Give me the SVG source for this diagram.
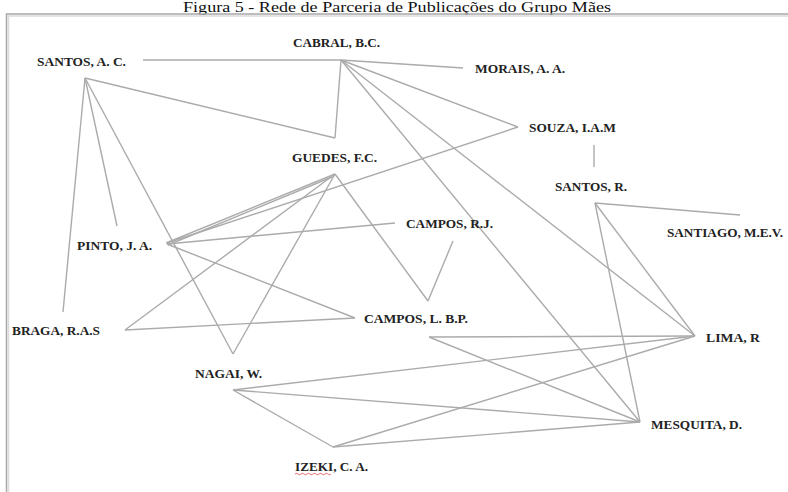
<svg xmlns="http://www.w3.org/2000/svg" width="788" height="492" viewBox="0 0 788 492">
<style>
.t{font-family:"Liberation Serif","Times New Roman",serif;font-size:12.5px;font-weight:bold;fill:#222;}
.title{font-family:"Liberation Serif","Times New Roman",serif;font-size:15px;fill:#111;}
.e line{stroke:#ababab;stroke-width:1.4;}
.frame{stroke:#a8a8a8;stroke-width:1.5;fill:none;}
.shadow{stroke:#dcdcdc;stroke-width:1.5;fill:none;}
</style>
<rect width="788" height="492" fill="#fff"/>
<text class="title" x="397" y="12" text-anchor="middle" textLength="428" lengthAdjust="spacingAndGlyphs">Figura 5 - Rede de Parceria de Publicações do Grupo Mães</text>
<path class="shadow" d="M8.5 492 V16 H788"/>
<path class="frame" d="M6.5 492 V14 H788"/>
<g id="connectors" class="e">
<line x1="143" y1="60" x2="341" y2="60"/>
<line x1="341" y1="60" x2="463" y2="68"/>
<line x1="85" y1="78" x2="335" y2="138"/>
<line x1="341" y1="60" x2="335" y2="138"/>
<line x1="341" y1="60" x2="518" y2="127"/>
<line x1="341" y1="60" x2="695" y2="336"/>
<line x1="341" y1="60" x2="640" y2="422"/>
<line x1="518" y1="127" x2="167" y2="243"/>
<line x1="594" y1="145" x2="594" y2="167"/>
<line x1="595" y1="203" x2="740" y2="215"/>
<line x1="595" y1="203" x2="695" y2="336"/>
<line x1="595" y1="203" x2="640" y2="422"/>
<line x1="85" y1="78" x2="63" y2="312"/>
<line x1="85" y1="78" x2="117" y2="226"/>
<line x1="85" y1="78" x2="233" y2="354"/>
<line x1="335" y1="174" x2="233" y2="354"/>
<line x1="335" y1="174" x2="166" y2="243"/>
<line x1="332" y1="177" x2="168" y2="245"/>
<line x1="335" y1="174" x2="125" y2="330"/>
<line x1="335" y1="174" x2="428" y2="301"/>
<line x1="453" y1="241" x2="428" y2="301"/>
<line x1="167" y1="244" x2="395" y2="223"/>
<line x1="167" y1="244" x2="355" y2="318"/>
<line x1="125" y1="330" x2="355" y2="318"/>
<line x1="429" y1="337" x2="695" y2="336"/>
<line x1="429" y1="337" x2="640" y2="422"/>
<line x1="233" y1="390" x2="695" y2="336"/>
<line x1="233" y1="390" x2="640" y2="422"/>
<line x1="233" y1="390" x2="333" y2="447"/>
<line x1="333" y1="447" x2="695" y2="336"/>
<line x1="333" y1="447" x2="640" y2="422"/>
</g>
<g id="santos-ac"><text class="t" x="37" y="66" textLength="89" lengthAdjust="spacingAndGlyphs">SANTOS, A. C.</text></g>
<g id="cabral"><text class="t" x="293" y="47" textLength="87" lengthAdjust="spacingAndGlyphs">CABRAL, B.C.</text></g>
<g id="morais"><text class="t" x="475" y="73" textLength="90" lengthAdjust="spacingAndGlyphs">MORAIS, A. A.</text></g>
<g id="guedes"><text class="t" x="292" y="162" textLength="85" lengthAdjust="spacingAndGlyphs">GUEDES, F.C.</text></g>
<g id="souza"><text class="t" x="529" y="132" textLength="87" lengthAdjust="spacingAndGlyphs">SOUZA, I.A.M</text></g>
<g id="santos-r"><text class="t" x="555" y="191" textLength="72" lengthAdjust="spacingAndGlyphs">SANTOS, R.</text></g>
<g id="campos-rj"><text class="t" x="406" y="228" textLength="87" lengthAdjust="spacingAndGlyphs">CAMPOS, R.J.</text></g>
<g id="santiago"><text class="t" x="667" y="237" textLength="116" lengthAdjust="spacingAndGlyphs">SANTIAGO, M.E.V.</text></g>
<g id="pinto"><text class="t" x="77" y="250" textLength="75" lengthAdjust="spacingAndGlyphs">PINTO, J. A.</text></g>
<g id="campos-lbp"><text class="t" x="364" y="323" textLength="104" lengthAdjust="spacingAndGlyphs">CAMPOS, L. B.P.</text></g>
<g id="braga"><text class="t" x="12" y="335" textLength="88" lengthAdjust="spacingAndGlyphs">BRAGA, R.A.S</text></g>
<g id="nagai"><text class="t" x="195" y="378" textLength="67" lengthAdjust="spacingAndGlyphs">NAGAI, W.</text></g>
<g id="lima"><text class="t" x="706" y="342" textLength="54" lengthAdjust="spacingAndGlyphs">LIMA, R</text></g>
<g id="mesquita"><text class="t" x="651" y="429" textLength="91" lengthAdjust="spacingAndGlyphs">MESQUITA, D.</text></g>
<g id="izeki"><text class="t" x="295" y="471" textLength="73" lengthAdjust="spacingAndGlyphs">IZEKI, C. A.</text>
<path d="M295 474 q1.5 -1.5 3 0 t3 0 t3 0 t3 0 t3 0 t3 0 t3 0 t3 0 t3 0 t3 0 t3 0 t3 0" fill="none" stroke="#e03030" stroke-width="0.7"/></g>
</svg>
